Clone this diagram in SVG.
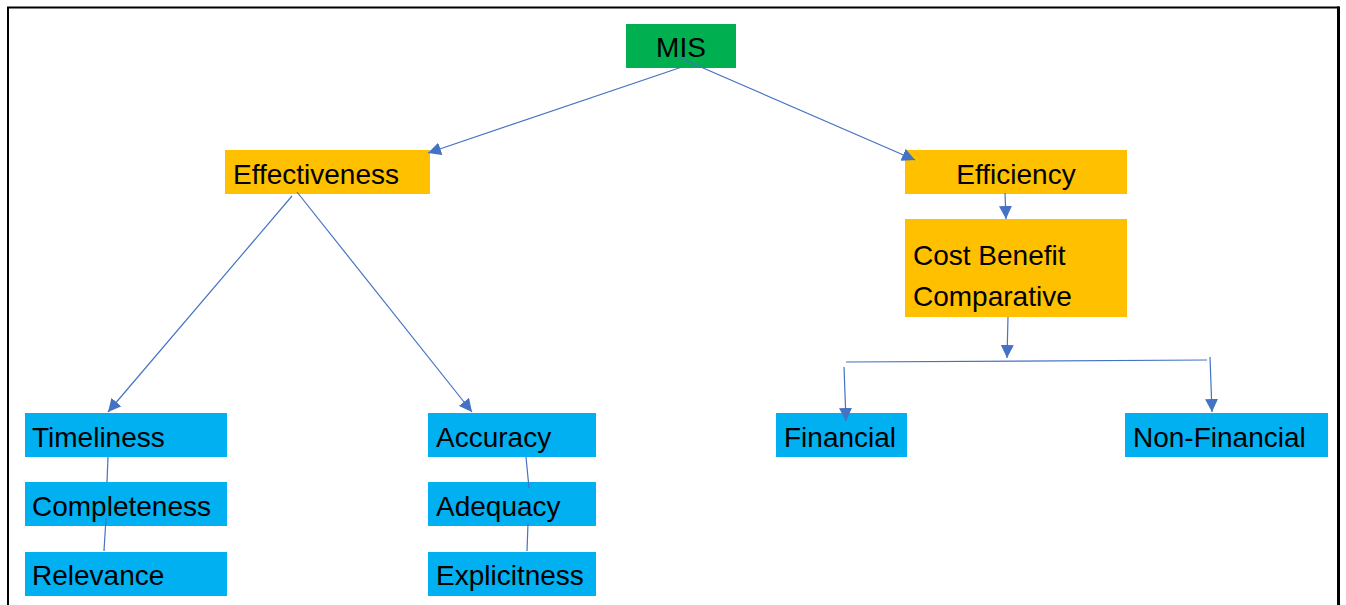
<svg xmlns="http://www.w3.org/2000/svg" width="1346" height="605" viewBox="0 0 1346 605">
  <style>
    .lbl { font-family: "Liberation Sans", Arial, sans-serif; font-size: 28px; fill: #000; }
    .green { fill: #00B050; }
    .orange { fill: #FFC000; }
    .blue { fill: #00B0F0; }
    .conn { stroke: #4472C4; stroke-width: 1.2; fill: none; }
    .arrow { marker-end: url(#ah); }
    .frame { stroke: #000; fill: none; }
  </style>
  <defs>
    <marker id="ah" markerUnits="userSpaceOnUse" markerWidth="14" markerHeight="13" refX="13" refY="6.5" orient="auto">
      <path d="M0,0 L13,6.5 L0,13 Z" fill="#4472C4"/>
    </marker>
  </defs>
  <rect width="1346" height="605" fill="#fff"/>
  <g id="frame">
    <line class="frame" x1="8" y1="7" x2="8" y2="605" stroke-width="2"/>
    <line class="frame" x1="7" y1="7.5" x2="1339" y2="7.5" stroke-width="2"/>
    <line class="frame" x1="1338.5" y1="6.5" x2="1338.5" y2="605" stroke-width="3"/>
  </g>

  <g id="node-mis">
    <rect class="green" x="626" y="24" width="110" height="44"/>
    <text class="lbl" x="681" y="57" text-anchor="middle">MIS</text>
  </g>
  <g id="node-effectiveness">
    <rect class="orange" x="225" y="150" width="205" height="44"/>
    <text class="lbl" x="233" y="184">Effectiveness</text>
  </g>
  <g id="node-efficiency">
    <rect class="orange" x="905" y="150" width="222" height="44"/>
    <text class="lbl" x="1016" y="184" text-anchor="middle">Efficiency</text>
  </g>
  <g id="node-costbenefit">
    <rect class="orange" x="905" y="219" width="222" height="98"/>
    <text class="lbl" x="913" y="265">Cost Benefit</text>
    <text class="lbl" x="913" y="306">Comparative</text>
  </g>
  <g id="node-timeliness">
    <rect class="blue" x="25" y="413" width="202" height="44"/>
    <text class="lbl" x="32" y="447">Timeliness</text>
  </g>
  <g id="node-completeness">
    <rect class="blue" x="25" y="482" width="202" height="44"/>
    <text class="lbl" x="32" y="516">Completeness</text>
  </g>
  <g id="node-relevance">
    <rect class="blue" x="25" y="552" width="202" height="44"/>
    <text class="lbl" x="32" y="585">Relevance</text>
  </g>
  <g id="node-accuracy">
    <rect class="blue" x="428" y="413" width="168" height="44"/>
    <text class="lbl" x="436" y="447">Accuracy</text>
  </g>
  <g id="node-adequacy">
    <rect class="blue" x="428" y="482" width="168" height="44"/>
    <text class="lbl" x="436" y="516">Adequacy</text>
  </g>
  <g id="node-explicitness">
    <rect class="blue" x="428" y="552" width="168" height="44"/>
    <text class="lbl" x="436" y="585">Explicitness</text>
  </g>
  <g id="node-financial">
    <rect class="blue" x="776" y="413" width="131" height="44"/>
    <text class="lbl" x="784" y="447">Financial</text>
  </g>
  <g id="node-nonfinancial">
    <rect class="blue" x="1125" y="413" width="203" height="44"/>
    <text class="lbl" x="1133" y="447">Non-Financial</text>
  </g>

  <g id="connectors">
    <line class="conn arrow" x1="682" y1="67" x2="428" y2="153"/>
    <line class="conn arrow" x1="680" y1="58" x2="915" y2="160"/>
    <line class="conn arrow" x1="292" y1="196" x2="108" y2="412"/>
    <line class="conn arrow" x1="297" y1="192" x2="472" y2="412"/>
    <line class="conn arrow" x1="1005" y1="193" x2="1006" y2="219"/>
    <line class="conn arrow" x1="1008" y1="317" x2="1007" y2="358"/>
    <line class="conn" x1="846" y1="362" x2="1207" y2="360"/>
    <line class="conn arrow" x1="844" y1="367" x2="846" y2="421"/>
    <line class="conn arrow" x1="1210" y1="357" x2="1212" y2="412"/>
    <line class="conn" x1="108" y1="457" x2="107" y2="482"/>
    <line class="conn" x1="106" y1="518" x2="104" y2="551"/>
    <line class="conn" x1="526" y1="457" x2="529" y2="488"/>
    <line class="conn" x1="528" y1="523" x2="527" y2="551"/>
  </g>
</svg>
